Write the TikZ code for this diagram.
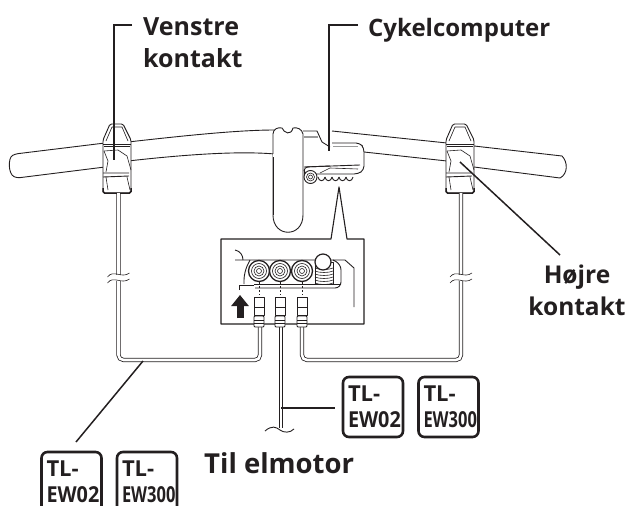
\documentclass[tikz,border=0pt]{standalone}
\usepackage{fontspec}
\setmainfont{Open Sans}
\usepackage{xcolor}
\definecolor{ink}{HTML}{231F20}
\definecolor{band}{HTML}{9A9A9A}
\usetikzlibrary{arrows.meta, positioning, calc}
\tikzset{
  part/.style={draw=ink, line width=0.9pt, line join=round},
  thin part/.style={draw=ink, line width=0.6pt},
  leader/.style={draw=ink, line width=1.5pt},
  cable/.style={draw=ink, line width=0.8pt, double=white, double distance=2.6pt, rounded corners=5pt},
  callout/.style={text=ink, font=\fontsize{25}{32}\selectfont\bfseries, inner sep=0pt, anchor=base west},
  badge/.style={draw=ink, line width=2.6pt, rounded corners=6pt, minimum width=60pt, minimum height=60pt, inner sep=0pt,
    text=ink, font=\fontsize{22}{26}\selectfont\bfseries, text width=50pt, align=left},
  switchpic/.pic={
    \draw[part, fill=white, rounded corners=1.5pt] (-7,0) -- (6,0) -- (14,16) -- (14,69) -- (-14,69) -- (-14,16) -- cycle;
    \draw[thin part] (-11,17) -- (-5,3) (11,17) -- (5,3) (-5,3) -- (5,3);
    \draw[part] (-14,20) -- (14,20) (-13,22.5) -- (13,22.5);
    \draw[thin part] (-13,27) -- (1,26) -- (10,32) -- (14,46) (-13,27) -- (-9,37) -- (-11,48);
    \draw[part] (-14,49) -- (12,49) (-14,53) -- (12,52);
    \draw[thin part] (10,53) -- (13,66) (-11,53) -- (-9,66);
    \draw[draw=ink, line width=1.5pt, rounded corners=1.5pt] (-14,64) -- (-14,69) -- (14,69) -- (14,64);
  },
}
\begin{document}
\begin{tikzpicture}[x=1pt, y=-1pt]
  \clip (0,0) rectangle (627,506);
  % handlebar
  \draw[part, rounded corners=3pt] (105,143) -- (15,154) .. controls (8,158) and (8,174) .. (17,178) -- (105,167);
  \draw[part] (128,142) .. controls (190,135) and (240,130) .. (275,130);
  \draw[part] (128,161) .. controls (190,154) and (240,151) .. (275,154);
  \draw[part] (332,131) -- (447,143) (474,146) -- (562,156) .. controls (568,162) and (568,174) .. (560,178) -- (474,167);
  \draw[part] (364,152) -- (447,161);
  % stem
  \draw[part, fill=white] (273,160) -- (273,134) .. controls (273,129) and (278,127) .. (282,128)
    .. controls (284,133) and (291,136) .. (293,128) .. controls (297,127) and (302,129) .. (303,134)
    -- (303,215) .. controls (303,238) and (273,238) .. (273,215) -- cycle;
  \draw[white, line width=1.5pt] (274,154) -- (274,168);
  \draw[part] (273,157) -- (273,215);
  % cycle computer
  \draw[part] (303,131) -- (317,131) -- (322,142) -- (330,147);
  \draw[draw=band, line width=2pt] (304,137) -- (318,137);
  \draw[part, fill=white, rounded corners=4pt] (332,143) -- (360,143) -- (364,148) -- (364,170) -- (358,174) -- (304,174) -- (304,167) -- (330,166);
  \draw[draw=band, line width=1pt] (333,146) -- (358,146);
  \draw[part] (304,167) -- (360,165);
  \draw[thin part] (320,173) -- (330,168) -- (358,169);
  \foreach \x in {318,325,332,339,346} {
    \draw[part] (\x,177) .. controls (\x+1,182) and (\x+6,182) .. (\x+7,177);
  }
  \draw[part] (304,174) -- (304,170);
  \draw[part, fill=white] (310.5,177) circle (6.5pt);
  \draw[thin part] (310.5,177) circle (4pt) (310.5,177) circle (2pt);
  % handlebar switches
  \pic at (117,124) {switchpic};
  \pic at (460,124) {switchpic};
  % cables
  \draw[cable] (118.5,193) -- (118.5,360) -- (260,360) -- (260,325);
  \draw[cable] (461,193) -- (461,360) -- (302,360) -- (302,325);
  \draw[cable, rounded corners=0pt] (281,325) -- (281,428);
  % wire breaks
  \foreach \x in {118.5,461} {
    \fill[white] (\x-6,275) rectangle (\x+6,281);
    \draw[thin part] (\x-11,277) .. controls (\x-5,269) and (\x+3,279) .. (\x+11,273);
    \draw[thin part] (\x-11,283) .. controls (\x-5,275) and (\x+3,285) .. (\x+11,279);
  }
  \draw[part] (265,431) .. controls (272,425) and (276,427) .. (280,430) .. controls (284,433) and (290,433) .. (294,429);
  % inset frame
  \draw[part, line width=1.1pt, fill=white] (221,239) -- (331,239) -- (339,187) -- (347,239) -- (364,239) -- (364,324) -- (221,324) -- cycle;
  \draw[part] (235,250) .. controls (240,251) and (243,255) .. (243,260);
  \draw[part] (235,260) -- (333,260) -- (345,260) -- (354,268) -- (354,307);
  \draw[part, rounded corners=8pt] (250,260) -- (244,272) -- (244,284);
  \draw[part, rounded corners=6pt] (333,260) -- (341,264) -- (341,288) -- (255,288);
  \draw[part] (239,290) -- (239,285) -- (254,285);
  \draw[part] (254,284) -- (341,284);
  % ports and plugs
  \foreach \x in {259,280,302} {
    \draw[part, line width=1.3pt, fill=white] (\x,271) circle (10.5pt);
    \draw[thin part] (\x,271) circle (7.5pt) (\x,271) circle (5pt) (\x,271) circle (2.5pt);
    \draw[ink, line width=1pt, dash pattern=on 2pt off 2pt] (\x,282) -- (\x,295);
    \draw[part, fill=white] (\x-5,297) rectangle (\x+5,315);
    \draw[thin part] (\x-5,307) -- (\x+5,307);
    \draw[part, fill=white, rounded corners=1pt] (\x-5,316) rectangle (\x+5,327);
    \draw[thin part] (\x-5,320) -- (\x+5,320) (\x-5,323) -- (\x+5,323);
  }
  % screw knob
  \draw[part, fill=white] (315,262) -- (315,284) -- (333,284) -- (333,262) -- cycle;
  \foreach \y in {268,271,...,283} {
    \draw[thin part] (315,\y) .. controls (319,\y+2) and (329,\y+2) .. (333,\y);
  }
  \draw[part, line width=1.2pt, fill=white] (323,262) circle (8pt);
  % arrow
  \draw[ink, line width=7pt, -{Triangle[length=11pt, width=17pt]}] (240,318) -- (240,295);
  % leaders
  \coordinate (venstre end) at (132,25);
  \coordinate (venstre tip) at (114,160);
  \coordinate (computer end) at (358,25);
  \coordinate (computer tip) at (329,151);
  \coordinate (hojre end) at (560,255);
  \coordinate (hojre tip) at (460,162);
  \coordinate (cable left) at (143,361);
  \coordinate (badge left) at (76,442);
  \coordinate (cable motor) at (281,408);
  \coordinate (badge right) at (335,408);
  \draw[leader] (venstre end) -- (114,25) -- (venstre tip);
  \draw[leader] (computer end) -- (329,25) -- (computer tip);
  \draw[leader] (hojre end) -- (hojre tip);
  \draw[leader] (cable left) -- (badge left);
  \draw[leader] (cable motor) -- (badge right);
  % labels
  \node[callout] (venstre) at (143,35) {Venstre};
  \node[callout] (venstre two) at (143,67) {kontakt};
  \node[callout, font=\fontsize{24}{32}\selectfont\bfseries] (computer) at (368,36) {Cykelcomputer};
  \node[callout, anchor=base, font=\fontsize{24.5}{32}\selectfont\bfseries] (hojre) at (577,283) {Højre};
  \node[callout, anchor=base, font=\fontsize{24.5}{32}\selectfont\bfseries] (hojre two) at (577,315) {kontakt};
  \node[callout, font=\fontsize{27.5}{32}\selectfont\bfseries] (motor) at (204,473) {Til elmotor};
  % tool badges
  \node[badge] (tl right a) at (373,407) {TL-\\\scalebox{.9}[1]{EW02}};
  \node[badge] (tl right b) at (448.5,407) {TL-\\\scalebox{.75}[1]{EW300}};
  \node[badge] (tl left a) at (71.5,482) {TL-\\\scalebox{.9}[1]{EW02}};
  \node[badge] (tl left b) at (147,482) {TL-\\\scalebox{.75}[1]{EW300}};
\end{tikzpicture}
\end{document}
